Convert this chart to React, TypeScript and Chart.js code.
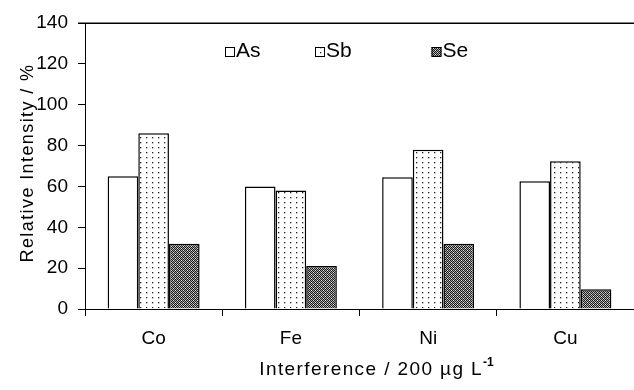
import React, { useEffect, useRef } from 'react';
import { Chart, registerables } from 'chart.js';

Chart.register(...registerables);

const categories = ['Co', 'Fe', 'Ni', 'Cu'];
const seriesNames = ['As', 'Sb', 'Se'];
const asValues = [65, 60, 64.5, 62.5];
const sbValues = [86, 58, 78, 72.3];
const seValues = [32, 21, 32, 9.7];
const yMin = 0;
const yMax = 140;
const yStep = 20;
const yTitle = 'Relative Intensity / %';
const xTitleMain = 'Interference / 200 \u00b5g L';
const xTitleSup = '-1';

const FONT = '"Liberation Sans", Arial, sans-serif';

function makeDotPattern(): CanvasPattern | string {
  const c = document.createElement('canvas');
  c.width = 6;
  c.height = 5;
  const g = c.getContext('2d');
  if (!g) return '#fff';
  g.fillStyle = '#fff';
  g.fillRect(0, 0, 6, 5);
  g.fillStyle = '#222';
  g.fillRect(2, 2, 1.3, 1.3);
  return g.createPattern(c, 'repeat') || '#fff';
}

function makeDarkPattern(): CanvasPattern | string {
  const c = document.createElement('canvas');
  c.width = 4;
  c.height = 4;
  const g = c.getContext('2d');
  if (!g) return '#555';
  for (let y = 0; y < 4; y++) {
    for (let x = 0; x < 4; x++) {
      g.fillStyle = (x + y) % 2 === 0 ? '#1a1a1a' : '#a8a8a8';
      g.fillRect(x, y, 1, 1);
    }
  }
  g.fillStyle = '#e0e0e0';
  g.fillRect(1, 0, 1, 1);
  g.fillRect(3, 2, 1, 1);
  return g.createPattern(c, 'repeat') || '#555';
}

export default function App() {
  const ref = useRef<HTMLCanvasElement | null>(null);

  useEffect(() => {
    document.body.style.margin = '0';
    const canvas = ref.current;
    if (!canvas) return;
    const dots = makeDotPattern();
    const dark = makeDarkPattern();
    const fills = ['#ffffff', dots, dark];

    const decor = {
      id: 'decor',
      afterDraw(chart: any) {
        const ctx = chart.ctx as CanvasRenderingContext2D;
        const ca = chart.chartArea;
        ctx.save();
        // top border
        ctx.strokeStyle = '#000';
        ctx.lineWidth = 1.5;
        ctx.beginPath();
        ctx.moveTo(ca.left - 7, Math.round(ca.top) + 0.25);
        ctx.lineTo(ca.right, Math.round(ca.top) + 0.25);
        ctx.stroke();

        ctx.fillStyle = '#000';
        // x title
        ctx.font = '19px ' + FONT;
        (ctx as any).letterSpacing = '1.4px';
        const wMain = ctx.measureText(xTitleMain).width;
        ctx.font = 'bold 12px ' + FONT;
        (ctx as any).letterSpacing = '0px';
        const wSup = ctx.measureText(xTitleSup).width;
        const cx = (ca.left + ca.right) / 2 + 17;
        const startX = cx - (wMain + wSup) / 2;
        ctx.textAlign = 'left';
        ctx.textBaseline = 'alphabetic';
        ctx.font = '19px ' + FONT;
        (ctx as any).letterSpacing = '1.4px';
        ctx.fillText(xTitleMain, startX, 375);
        ctx.font = 'bold 12px ' + FONT;
        (ctx as any).letterSpacing = '0px';
        ctx.fillText(xTitleSup, startX + wMain, 366);

        // y title
        ctx.save();
        ctx.translate(33, 163);
        ctx.rotate(-Math.PI / 2);
        ctx.font = '18px ' + FONT;
        (ctx as any).letterSpacing = '1.4px';
        ctx.textAlign = 'center';
        ctx.fillText(yTitle, 0, 0);
        ctx.restore();

        // legend
        const boxX = [225, 315, 431.5];
        ctx.font = '21px ' + FONT;
        (ctx as any).letterSpacing = '0px';
        ctx.textAlign = 'left';
        seriesNames.forEach((name, i) => {
          ctx.fillStyle = fills[i] as any;
          ctx.fillRect(boxX[i], 47, 10, 10);
          ctx.strokeStyle = '#000';
          ctx.lineWidth = 1;
          ctx.strokeRect(boxX[i] + 0.5, 47.5, 9, 9);
          ctx.fillStyle = '#000';
          ctx.fillText(name, boxX[i] + 11, 57);
        });
        ctx.restore();
      },
    };

    const chart = new Chart(canvas, {
      type: 'bar',
      data: {
        labels: categories,
        datasets: [
          { label: seriesNames[0], data: asValues, backgroundColor: fills[0] as any },
          { label: seriesNames[1], data: sbValues, backgroundColor: fills[1] as any },
          { label: seriesNames[2], data: seValues, backgroundColor: fills[2] as any },
        ].map((d) => ({
          ...d,
          borderColor: '#000',
          borderWidth: 1.5,
          categoryPercentage: 0.67,
          barPercentage: 1,
        })),
      },
      options: {
        responsive: false,
        animation: false,
        layout: { padding: { top: 23, left: 0, right: 0, bottom: 0 } },
        plugins: {
          legend: { display: false },
          tooltip: { enabled: false },
          title: { display: false },
        },
        scales: {
          x: {
            offset: true,
            grid: {
              offset: true,
              drawOnChartArea: false,
              drawTicks: true,
              tickLength: 7,
              color: '#000',
            },
            border: { color: '#000', width: 1 },
            ticks: {
              color: '#000',
              font: { family: FONT, size: 19 },
              padding: 11,
            },
            afterFit(scale: any) {
              scale.height = 81;
            },
          },
          y: {
            min: yMin,
            max: yMax,
            grid: {
              drawOnChartArea: false,
              drawTicks: true,
              tickLength: 7,
              color: '#000',
            },
            border: { color: '#000', width: 1 },
            ticks: {
              stepSize: yStep,
              color: '#000',
              font: { family: FONT, size: 19 },
              padding: 10,
            },
            afterFit(scale: any) {
              scale.width = 85;
            },
          },
        },
      },
      plugins: [decor],
    });
    return () => chart.destroy();
  }, []);

  return <canvas ref={ref} width={634} height={390} style={{ display: 'block' }} />;
}
